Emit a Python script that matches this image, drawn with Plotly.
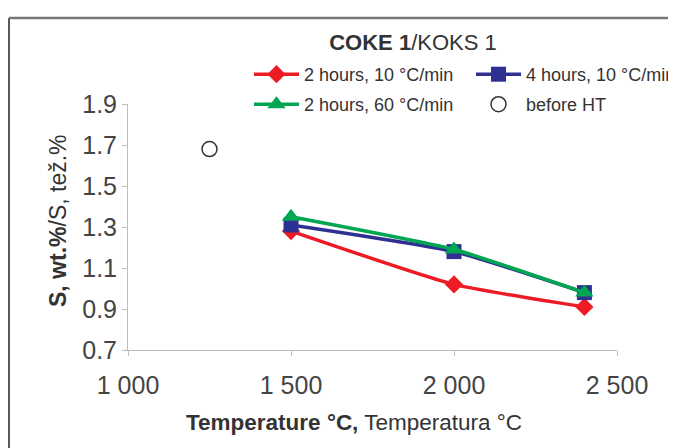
import plotly.graph_objects as go

temps = [1500, 2000, 2400]
red_2h_10 = [1.28, 1.02, 0.91]
blue_4h_10 = [1.31, 1.18, 0.98]
green_2h_60 = [1.35, 1.19, 0.98]
before_x = [1250]
before_y = [1.68]

x_ticks = [1000, 1500, 2000, 2500]
x_ticklabels = ["1 000", "1 500", "2 000", "2 500"]
y_ticks = [0.7, 0.9, 1.1, 1.3, 1.5, 1.7, 1.9]
y_ticklabels = ["0.7", "0.9", "1.1", "1.3", "1.5", "1.7", "1.9"]

RED = "#ed1c24"
BLUE = "#2e3192"
GREEN = "#00a651"
FONT = "Liberation Sans, Arial, sans-serif"
TXT = "#333333"

fig = go.Figure()
fig.add_trace(go.Scatter(x=temps, y=red_2h_10, name="2 hours, 10 °C/min", mode="lines+markers",
                         line=dict(color=RED, width=3.5, shape="spline", smoothing=0.5),
                         marker=dict(symbol="diamond", size=14, color=RED), legend="legend"))
fig.add_trace(go.Scatter(x=temps, y=blue_4h_10, name="4 hours, 10 °C/min", mode="lines+markers",
                         line=dict(color=BLUE, width=3.5, shape="spline", smoothing=0.5),
                         marker=dict(symbol="square", size=15, color=BLUE), legend="legend2"))
fig.add_trace(go.Scatter(x=temps, y=green_2h_60, name="2 hours, 60 °C/min", mode="lines+markers",
                         line=dict(color=GREEN, width=3.5, shape="spline", smoothing=0.5),
                         marker=dict(symbol="triangle-up", size=16, color=GREEN), legend="legend3"))
fig.add_trace(go.Scatter(x=before_x, y=before_y, name="before HT", mode="markers",
                         marker=dict(symbol="circle-open", size=15, color="#333333", line=dict(width=1.5)),
                         legend="legend4"))

# the page body has an 8px margin, so the figure is placed at page (8, 8)
OFF = 8
W, H = 676 - OFF, 448 - OFF
L, R, T, B = 128 - OFF, 59, 104 - OFF, 98
pw, ph = W - L - R, H - T - B

def px(xp):  # page pixel x -> paper fraction
    return (xp - OFF - L) / pw

def py(yp):  # page pixel y -> paper fraction
    return (H - B - (yp - OFF)) / ph

axis_common = dict(showgrid=False, zeroline=False, showline=True, linecolor="#bdbdbd", linewidth=1,
                   ticks="outside", ticklen=5, tickcolor="#bdbdbd", automargin=False,
                   tickfont=dict(family=FONT, size=25, color="#444444"))

def leg(xp, yp):
    return dict(orientation="h", x=px(xp), y=py(yp), xanchor="left", yanchor="top", itemwidth=45,
                font=dict(family=FONT, size=18, color=TXT), bgcolor="rgba(0,0,0,0)")

fig.update_layout(
    width=W, height=H,
    margin=dict(l=L, r=R, t=T, b=B, autoexpand=False),
    paper_bgcolor="white", plot_bgcolor="white",
    font=dict(family=FONT, color=TXT),
    xaxis=dict(range=[1000, 2500], tickvals=x_ticks, ticktext=x_ticklabels, ticklabelstandoff=8,
               **axis_common),
    yaxis=dict(range=[0.7, 1.9], tickvals=y_ticks, ticktext=y_ticklabels,
               **axis_common),
    title=dict(text="<b>COKE 1</b>/KOKS 1", font=dict(family=FONT, size=22, color=TXT),
               x=px(413), xanchor="center", xref="paper", y=1 - (42 - OFF) / H, yanchor="middle",
               yref="container"),
    legend=leg(249, 56),
    legend2=leg(471, 56),
    legend3=leg(249, 86),
    legend4=leg(471, 86),
    showlegend=True,
    annotations=[
        dict(text="<b>Temperature °C,</b> Temperatura °C", xref="paper", yref="paper",
             x=px(354), y=py(422), xanchor="center", yanchor="middle", showarrow=False,
             font=dict(family=FONT, size=22.5, color=TXT)),
        dict(text="<b>S, wt.%</b>/S, tež.%", xref="paper", yref="paper", textangle=-90,
             x=px(58), y=py(221), xanchor="center", yanchor="middle", showarrow=False,
             font=dict(family=FONT, size=23, color=TXT)),
    ],
    shapes=[
        dict(type="line", xref="paper", yref="paper", x0=px(9), x1=px(9), y0=py(18), y1=py(470),
             line=dict(color="#222222", width=1.5)),
        dict(type="line", xref="paper", yref="paper", x0=px(9), x1=px(700), y0=py(18), y1=py(18),
             line=dict(color="#777777", width=2.5)),
    ],
)

fig.write_html("out.html")
